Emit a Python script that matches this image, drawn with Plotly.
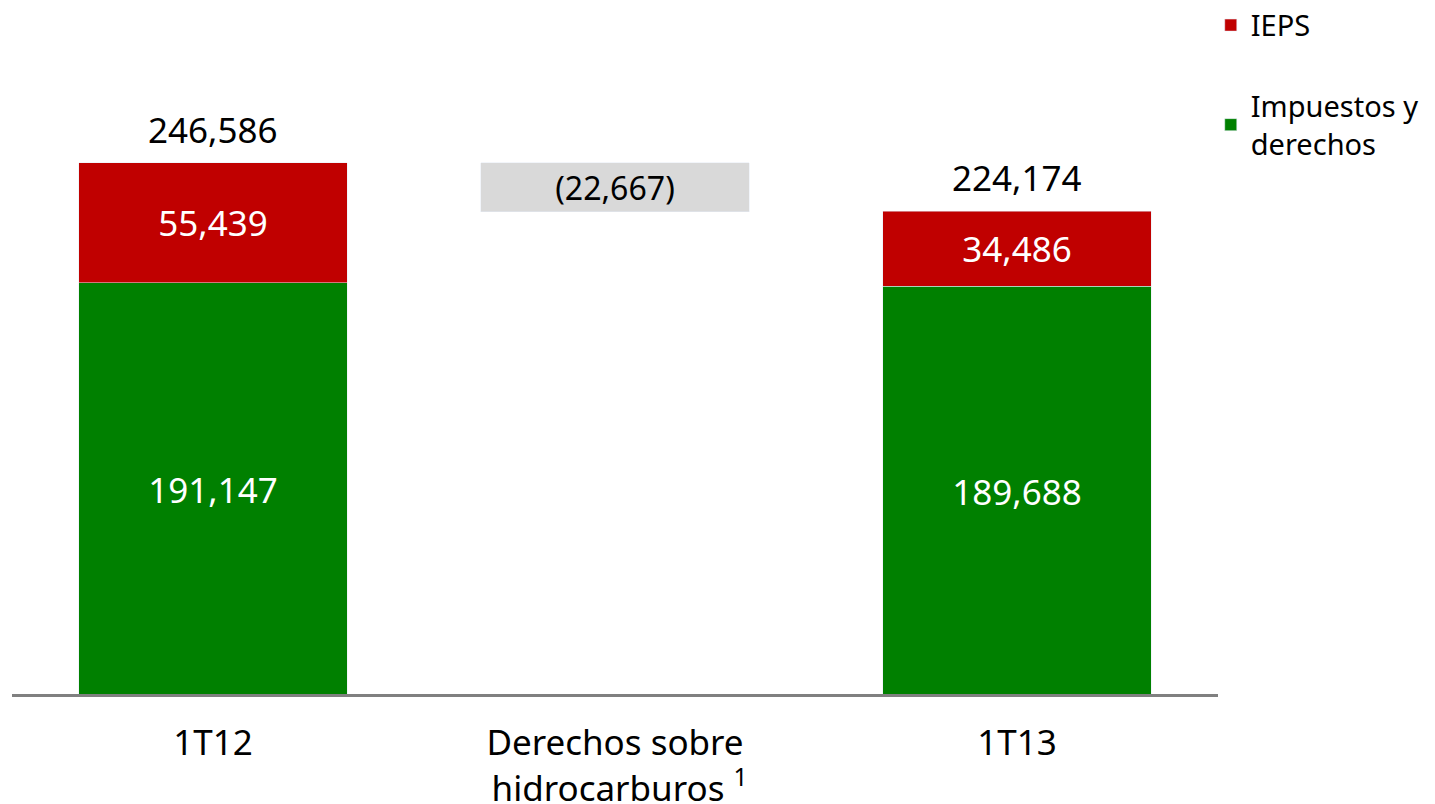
import plotly.graph_objects as go

CATEGORIES = ["1T12", "Derechos sobre<br> hidrocarburos <sup>1</sup>", "1T13"]
IMPUESTOS = [191147, None, 189688]
IEPS = [55439, None, 34486]
TOTALES = [246586, None, 224174]
VARIACION = 22667

FONT = "Noto Sans"
RED = "#C00000"
GREEN = "#008000"
GRAY = "#D9D9D9"

fig = go.Figure()

fig.add_trace(go.Bar(
    x=CATEGORIES, y=IMPUESTOS, name="Impuestos y<br>derechos",
    marker_color=GREEN, width=0.667, legendgroup="a", legendrank=2,
    text=[f"{v:,}" if v else "" for v in IMPUESTOS],
    textposition="inside", insidetextanchor="middle",
    textfont=dict(color="white", size=35, family=FONT),
))
fig.add_trace(go.Bar(
    x=CATEGORIES, y=IEPS, name="IEPS",
    marker_color=RED, width=0.667, legendgroup="b", legendrank=1,
    text=[f"{v:,}" if v else "" for v in IEPS],
    textposition="inside", insidetextanchor="middle",
    textfont=dict(color="white", size=35, family=FONT),
))
# barra flotante de la variación
fig.add_trace(go.Bar(
    x=[CATEGORIES[1]], y=[VARIACION], base=[TOTALES[0] - VARIACION],
    marker_color=GRAY, width=0.667, showlegend=False,
    text=[f"({VARIACION:,})"], textposition="inside", insidetextanchor="middle",
    textfont=dict(color="black", size=35, family=FONT),
))

for cat, tot in zip(CATEGORIES, TOTALES):
    if tot:
        fig.add_annotation(x=cat, y=tot, text=f"{tot:,}", showarrow=False,
                           yanchor="bottom", yshift=8,
                           font=dict(size=35, color="black", family=FONT))

fig.add_shape(type="line", xref="paper", yref="y", x0=0, x1=1, y0=0, y1=0,
              line=dict(color="#808080", width=6), layer="above")

# la página añade 8 px de margen, por eso 1427x796
fig.update_layout(
    barmode="stack",
    width=1427, height=796,
    margin=dict(l=4, r=217, t=0, b=107, autoexpand=False),
    plot_bgcolor="white", paper_bgcolor="white",
    font=dict(family=FONT, size=35, color="black"),
    xaxis=dict(showgrid=False, showline=False, ticks="", tickfont=dict(size=35),
               ticklabelstandoff=22),
    yaxis=dict(range=[0, 318100], visible=False),
    legend=dict(x=0.994, y=1.012, xanchor="left", yanchor="top",
                traceorder="grouped", tracegroupgap=40,
                font=dict(size=29, family=FONT), itemwidth=30),
)

fig.write_html("out.html")
